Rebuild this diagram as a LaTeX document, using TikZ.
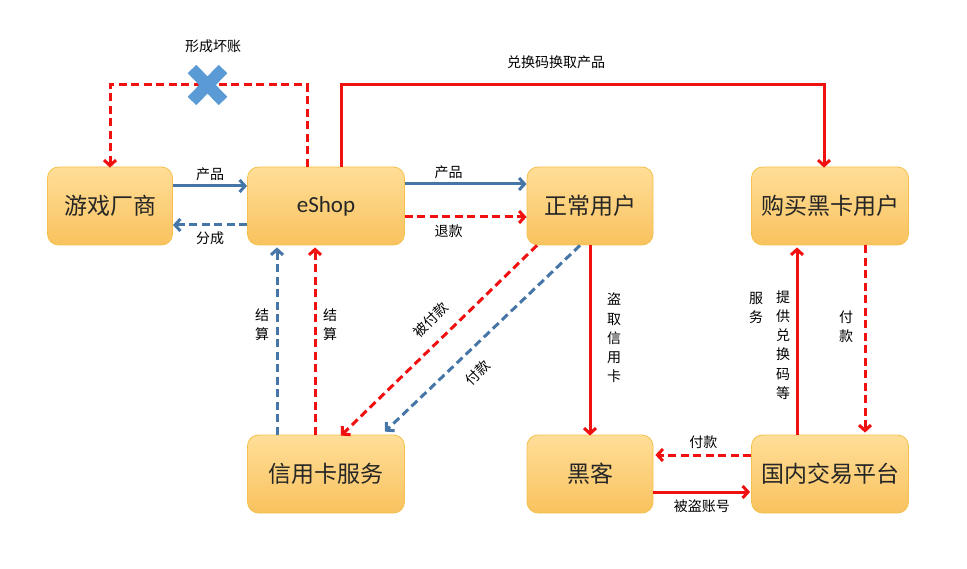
\documentclass[tikz,border=0pt]{standalone}
\usepackage{fontspec}
\setmainfont{Carlito}
\newfontfamily\cjk{Noto Sans CJK SC}
\usetikzlibrary{arrows.meta}
\definecolor{boxtop}{HTML}{FFDE98}
\definecolor{boxbot}{HTML}{F9C25E}
\definecolor{boxline}{HTML}{F4C04E}
\definecolor{myred}{HTML}{F01010}
\definecolor{myblue}{HTML}{4676A8}
\definecolor{crossblue}{HTML}{5B9BD5}
\begin{document}
\begin{tikzpicture}[x=1pt,y=-1pt,
  box/.style={rounded corners=11pt, draw=boxline, line width=0.8pt, top color=boxtop, bottom color=boxbot,
    minimum width=157pt, minimum height=78pt, font=\cjk\fontsize{23}{27}\selectfont, text=black!85},
  lbl/.style={font=\cjk\fontsize{14}{18}\selectfont, inner sep=1pt},
  vlbl/.style={font=\cjk\fontsize{14}{19.3}\selectfont, align=center, inner sep=0pt},
  tip/.style={-{Straight Barb[length=5.5pt,width=12pt]}},
  redA/.style={draw=myred, line width=3pt, tip},
  blueA/.style={draw=myblue, line width=3pt, tip},
  dsh/.style={dash pattern=on 8pt off 4.5pt}]
\useasboundingbox (0,0) rectangle (967,569);

\node[box, minimum width=125pt] (vendor) at (110,206) {游戏厂商};
\node[box] (eshop) at (326,206) {\fontspec{Carlito}\fontsize{23}{27}\selectfont eShop};
\node[box, minimum width=126pt] (normal) at (590,206) {正常用户};
\node[box] (black) at (830,206) {购买黑卡用户};
\node[box] (credit) at (326,474) {信用卡服务};
\node[box, minimum width=126pt] (hacker) at (590,474) {黑客};
\node[box] (platform) at (830,474) {国内交易平台};

% vendor <-> eshop
\draw[blueA] ([yshift=20pt]vendor.east) -- ([yshift=20pt]eshop.west)
  node[lbl, midway, above=3pt] (l1) {产品};
\draw[blueA, dsh] ([yshift=-19pt]eshop.west) -- ([yshift=-19pt]vendor.east)
  node[lbl, midway, below=4pt] (l2) {分成};

% eshop -> normal
\draw[blueA] ([yshift=22pt]eshop.east) -- ([yshift=22pt]normal.west)
  node[lbl, pos=0.36, above=3pt] (l3) {产品};
\draw[redA, dsh] ([yshift=-11pt]eshop.east) -- ([yshift=-11pt]normal.west)
  node[lbl, pos=0.36, below=5pt] (l4) {退款};

% bad debt loop
\draw[redA, dsh] ([xshift=-19pt]eshop.north) |- ([yshift=82pt]vendor.north) -- ([yshift=-1pt]vendor.north);
\draw[crossblue, line width=12pt] (192,69) -- (223,101) (192,101) -- (223,69);
\node[lbl] (l5) at (213,46) {形成坏账};

% eshop -> black card users
\draw[redA] ([xshift=15pt]eshop.north) |- ([xshift=-6pt,yshift=82pt]black.north) -- ([xshift=-6pt,yshift=-1pt]black.north);
\node[lbl] (l6) at (556,62) {兑换码换取产品};

% credit -> eshop
\draw[blueA, dsh] ([xshift=-49pt]credit.north) -- ([xshift=-49pt,yshift=-2pt]eshop.south);
\node[vlbl] (l7) at (262,325) {结\\算};
\draw[redA, dsh] ([xshift=-11pt]credit.north) -- ([xshift=-11pt,yshift=-2pt]eshop.south);
\node[vlbl] (l8) at (330,325) {结\\算};

% normal -> credit diagonals
\draw[redA, dsh] ([xshift=-53pt]normal.south) -- ([xshift=15pt,yshift=-1pt]credit.north);
\node[lbl, rotate=45] (l9) at (431,320) {被付款};
\draw[blueA, dsh] ([xshift=-10pt]normal.south) -- ([xshift=59pt,yshift=3pt]credit.north);
\node[lbl, rotate=45] (l10) at (478,373) {付款};

% normal -> hacker
\draw[redA] (normal.south) -- ([yshift=-1pt]hacker.north);
\node[vlbl] (l11) at (614,338) {盗\\取\\信\\用\\卡};

% platform -> black
\draw[redA] ([xshift=-33pt]platform.north) -- ([xshift=-33pt,yshift=-2pt]black.south);
\node[vlbl] (l12) at (783,345) {提\\供\\兑\\换\\码\\等};
\node[vlbl] (l13) at (756,308) {服\\务};

% black -> platform
\draw[redA, dsh] ([xshift=35pt]black.south) -- ([xshift=35pt,yshift=2pt]platform.north);
\node[vlbl] (l14) at (846,327) {付\\款};

% platform <-> hacker
\draw[redA, dsh] ([yshift=19pt]platform.west) -- ([xshift=2pt,yshift=19pt]hacker.east)
  node[lbl, midway, above=4pt] (l15) {付款};
\draw[redA] ([yshift=-18pt]hacker.east) -- ([xshift=-1pt,yshift=-18pt]platform.west)
  node[lbl, midway, below=5pt] (l16) {被盗账号};
\end{tikzpicture}
\end{document}
